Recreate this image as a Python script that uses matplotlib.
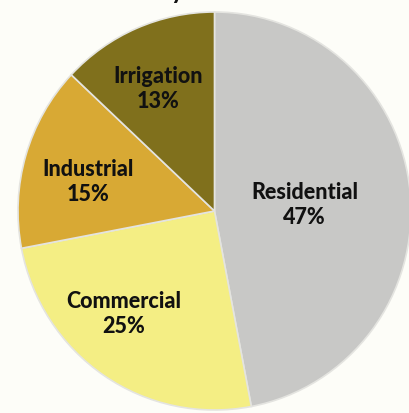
import numpy as np
import matplotlib
matplotlib.use("Agg")
import matplotlib.pyplot as plt

# Share of water use by customer class
categories = ["Residential", "Commercial", "Industrial", "Irrigation"]
shares = [47, 25, 15, 13]
pct_labels = ["47%", "25%", "15%", "13%"]

colors = ["#c8c8c6", "#f4ee84", "#d8a934", "#80701c"]
label_r = [0.46, 0.69, 0.66, 0.68]       # radial position of each label
label_dtheta = [-1.0, -8.0, 3.0, 1.5]    # small angular nudge (degrees)

plt.rcParams["font.family"] = ["Lato", "DejaVu Sans"]

fig = plt.figure(figsize=(4.10, 4.14), dpi=100, facecolor="#fdfdf8")
ax = fig.add_axes([18 / 410, 3 / 414, 393 / 410, 398 / 414])
ax.set_facecolor("none")

wedges, _ = ax.pie(
    shares,
    colors=colors,
    startangle=90,
    counterclock=False,
    radius=1.0,
    wedgeprops=dict(edgecolor="#e4e4e0", linewidth=1.2),
)
ax.set_xlim(-1, 1)
ax.set_ylim(-1, 1)
ax.set_aspect("auto")
ax.axis("off")

for w, name, pct, r, dt in zip(wedges, categories, pct_labels, label_r, label_dtheta):
    mid = np.deg2rad((w.theta1 + w.theta2) / 2 + dt)
    x, y = r * np.cos(mid), r * np.sin(mid)
    ax.text(x, y, f"{name}\n{pct}", ha="center", va="center",
            fontsize=15.5, fontweight="black", color="#111111",
            linespacing=1.25)

# Title sits at the very top edge of the figure
fig.text(0.48, 1 + 1 / 414, "Water Use by Customer Class", ha="center",
         va="baseline", fontsize=18, fontweight="bold", color="#111111")

fig.savefig("out.png", dpi=100, facecolor=fig.get_facecolor())
